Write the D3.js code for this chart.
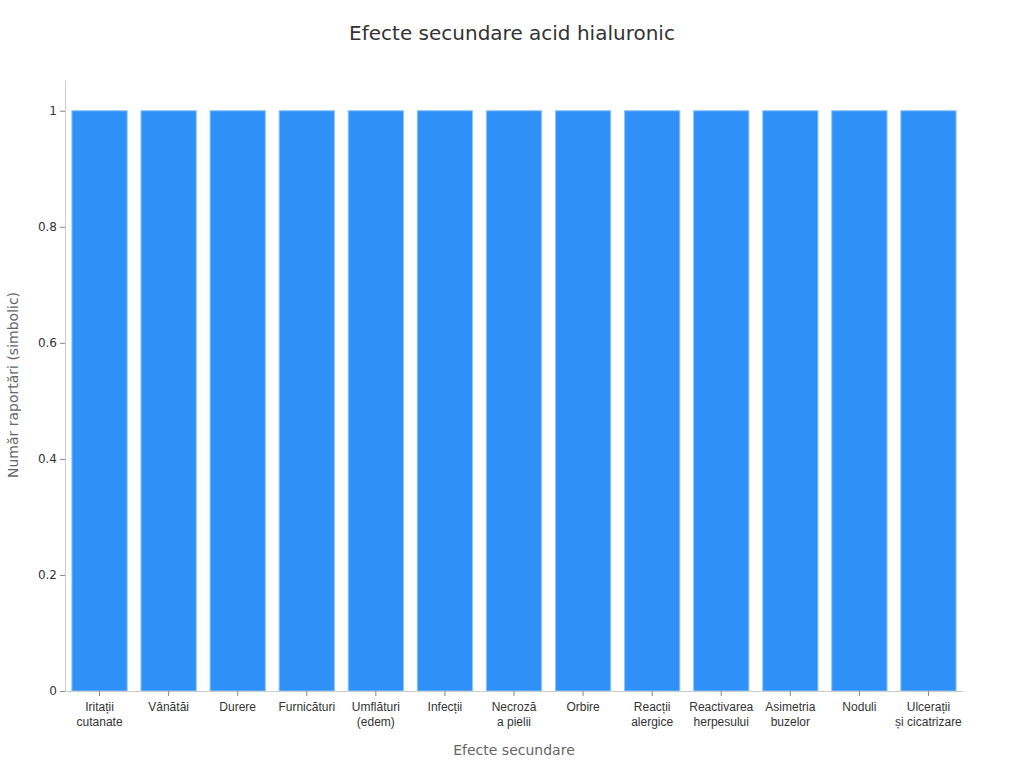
<!DOCTYPE html>
<html><head><meta charset="utf-8">
<script src="https://cdn.jsdelivr.net/npm/d3@7"></script>
<style>body{margin:0;background:#fff;font-family:"DejaVu Sans",sans-serif;}</style>
</head><body><svg width="1024" height="768"></svg>
<script>
// categories and values
const categories = [["Iritații","cutanate"],["Vânătăi"],["Durere"],["Furnicături"],["Umflături","(edem)"],["Infecții"],["Necroză","a pielii"],["Orbire"],["Reacții","alergice"],["Reactivarea","herpesului"],["Asimetria","buzelor"],["Noduli"],["Ulcerații","și cicatrizare"]];
const values = [1,1,1,1,1,1,1,1,1,1,1,1,1];
const yTicks = [0,0.2,0.4,0.6,0.8,1];

const svg = d3.select("svg");
const m = {l:65, r:963, t:80, b:691};
const x = d3.scaleBand().domain(d3.range(categories.length)).range([m.l, m.r]).paddingInner(0.2).paddingOuter(0.1);
const y = d3.scaleLinear().domain([0, 1.053]).range([m.b, m.t]);

svg.append("text").attr("x",512).attr("y",40).attr("text-anchor","middle")
  .attr("font-size",20).attr("fill","#333").text("Efecte secundare acid hialuronic");

svg.selectAll("rect.bar").data(values).join("rect").attr("class","bar")
  .attr("x",(d,i)=>x(i)).attr("width",x.bandwidth())
  .attr("y",d=>y(d)).attr("height",d=>y(0)-y(d))
  .attr("fill","#2f91f8").attr("stroke","#8cc4fb").attr("stroke-width",1);

const ya = svg.append("g").attr("transform",`translate(${m.l},0)`)
  .call(d3.axisLeft(y).tickValues(yTicks).tickFormat(d=>d===0||d===1?d:d.toFixed(1)).tickSize(5).tickSizeOuter(0));
const xa = svg.append("g").attr("transform",`translate(0,${m.b})`)
  .call(d3.axisBottom(x).tickSize(5).tickSizeOuter(0).tickFormat(""));
[ya,xa].forEach(a=>{
  a.select(".domain").attr("stroke","#ccc");
  a.selectAll(".tick line").attr("stroke","#888");
  a.selectAll("text").attr("font-size",12).attr("fill","#333").attr("font-family","DejaVu Sans");
});
xa.selectAll(".tick").each(function(d){
  const t = d3.select(this).append("text").attr("y",20).attr("text-anchor","middle")
    .attr("font-size",12).attr("fill","#333");
  categories[d].forEach((s,k)=>t.append("tspan").attr("x",0).attr("dy",k?15:0).text(s));
});

svg.append("text").attr("x",514).attr("y",755).attr("text-anchor","middle")
  .attr("font-size",14).attr("fill","#666").text("Efecte secundare");
svg.append("text").attr("transform","translate(18,385) rotate(-90)").attr("text-anchor","middle")
  .attr("font-size",14).attr("fill","#666").text("Număr raportări (simbolic)");
</script></body></html>
